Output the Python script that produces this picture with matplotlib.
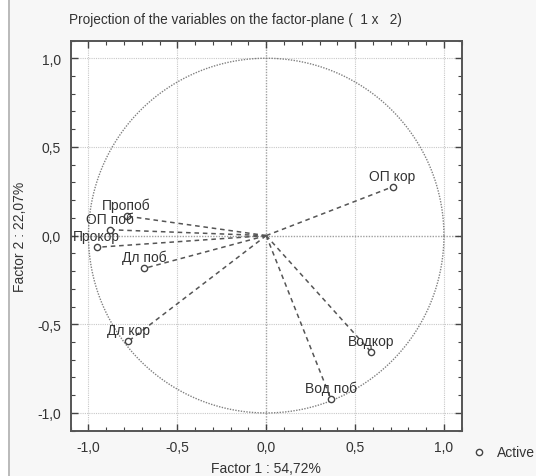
import matplotlib
matplotlib.use("Agg")
import matplotlib.pyplot as plt
import numpy as np
from matplotlib.ticker import MultipleLocator, FuncFormatter
from matplotlib.patches import Rectangle
from matplotlib.lines import Line2D

plt.rcParams['font.family'] = ['Liberation Sans', 'DejaVu Sans']

labels = ["ОП кор", "Водкор", "Вод поб", "Дл кор", "Дл поб", "ОП поб", "Прокор", "Пропоб"]
f1 = [0.711, 0.589, 0.364, -0.776, -0.687, -0.879, -0.953, -0.786]
f2 = [0.275, -0.655, -0.921, -0.596, -0.185, 0.033, -0.066, 0.110]

title = "Projection of the variables on the factor-plane (  1 x   2)"
xlabel = "Factor 1 : 54,72%"
ylabel = "Factor 2 : 22,07%"
legend_label = "Active"

W, H = 536, 477
fig = plt.figure(figsize=(W / 100, H / 100), dpi=100, facecolor="#f7f7f7")
fig.patches.append(Rectangle((0, 0), 8 / W, 1, transform=fig.transFigure,
                             facecolor="white", edgecolor="none", zorder=0))
fig.lines.append(Line2D([8.5 / W, 8.5 / W], [0, 1], transform=fig.transFigure,
                        color="#b0b0b0", lw=1.2))

ax = fig.add_axes([70.7 / W, 1 - 431.7 / H, 391 / W, 390.2 / H])
ax.set_facecolor("white")
ax.set_xlim(-1.1, 1.1)
ax.set_ylim(-1.1, 1.1)

# grid
for v in [-1.0, -0.5, 0.5, 1.0]:
    ax.axvline(v, color="#c8c8c8", lw=0.8, ls=(0, (1, 1)), zorder=1)
    ax.axhline(v, color="#c8c8c8", lw=0.8, ls=(0, (1, 1)), zorder=1)
ax.axvline(0, color="#a0a0a0", lw=1.0, ls=(0, (1, 1)), zorder=1)
ax.axhline(0, color="#a0a0a0", lw=1.0, ls=(0, (1, 1)), zorder=1)

# unit circle
t = np.linspace(0, 2 * np.pi, 400)
ax.plot(np.cos(t), np.sin(t), color="#808080", lw=1.0, ls=(0, (1, 1)), zorder=2)

for lab, x, y in zip(labels, f1, f2):
    ax.plot([0, x], [0, y], color="#555555", lw=1.1, ls=(0, (3, 2.5)), zorder=3)
    ax.plot([x], [y], marker="o", ms=4.5, mfc="white", mec="#444444", mew=1.0,
            ls="none", zorder=4)
    ax.annotate(lab, (x, y), xytext=(0, 3.0), textcoords="offset points",
                ha="center", va="bottom", fontsize=10, color="#333333", zorder=5)

ax.xaxis.set_major_locator(MultipleLocator(0.5))
ax.yaxis.set_major_locator(MultipleLocator(0.5))
ax.xaxis.set_minor_locator(MultipleLocator(0.1))
ax.yaxis.set_minor_locator(MultipleLocator(0.1))
fmt = FuncFormatter(lambda v, p: f"{v:.1f}".replace(".", ",").replace("-0,0", "0,0"))
ax.xaxis.set_major_formatter(fmt)
ax.yaxis.set_major_formatter(fmt)
ax.tick_params(which="both", direction="in", top=True, right=True,
               colors="#444444", labelcolor="#333333")
ax.tick_params(which="major", length=5, width=1, labelsize=10, pad=7)
ax.tick_params(which="minor", length=3, width=0.8)
for s in ax.spines.values():
    s.set_color("#555555")
    s.set_linewidth(1.4)

ax.set_xlabel(xlabel, fontsize=10, color="#333333", labelpad=5)
ax.set_ylabel(ylabel, fontsize=10, color="#333333", labelpad=7)
fig.text(69 / W, 1 - 20 / H, title, fontsize=9.8, color="#333333", ha="left", va="center")

# legend
fig.lines.append(Line2D([479 / W], [1 - 453 / H], transform=fig.transFigure,
                        marker="o", ms=4.5, mfc="white", mec="#444444", mew=1.0, ls="none"))
fig.text(497 / W, 1 - 453 / H, legend_label, fontsize=10, color="#333333",
         ha="left", va="center")

fig.savefig("out.png", dpi=100, facecolor=fig.get_facecolor())
